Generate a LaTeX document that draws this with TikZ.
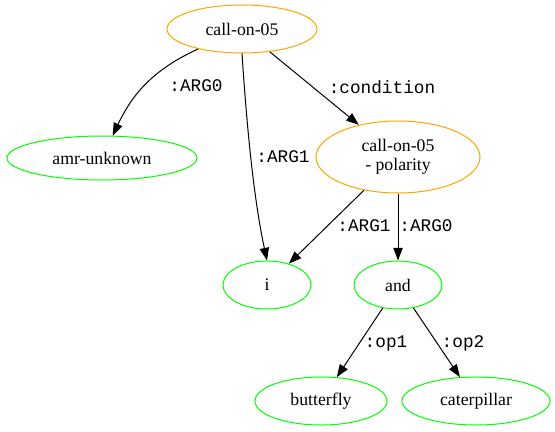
\documentclass[tikz,border=0pt]{standalone}
\usepackage{fontspec}
\setmainfont{Liberation Serif}
\setmonofont{Liberation Mono}
\usepackage{tikz}
\usetikzlibrary{shapes.geometric,arrows.meta}
\definecolor{gvOrange}{HTML}{FFA500}
\definecolor{gvGreen}{HTML}{00FF00}
\tikzstyle{tsText} = [
    text=black,
    font=\fontsize{13.3}{14}\selectfont
]
\tikzstyle{tsEllipse} = [
    ellipse,
    tsText,
    align=center,
    inner sep=0pt,
    line width=0.75pt,
    minimum height=36pt
]
\tikzstyle{tsConcept} = [
    tsEllipse,
    draw=gvOrange
]
\tikzstyle{tsLeaf} = [
    tsEllipse,
    draw=gvGreen
]
\tikzstyle{tsEdge} = [
    -{Triangle[length=9.5pt,width=7pt]},
    line width=0.75pt
]
\tikzstyle{tsRole} = [
    font=\ttfamily\fontsize{13.3}{14}\selectfont
]

\begin{document}
\begin{tikzpicture}[x=0.75pt, y=-0.75pt]
        \useasboundingbox (0,0) rectangle (555,431);

        % Define nodes
        \node[tsConcept, minimum width=112.5pt] (call) at (242,29) {call-on-05};
        \node[tsLeaf, minimum width=142.5pt, minimum height=33pt] (unknown) at (102,158) {amr-unknown};
        \node[tsConcept, minimum width=123pt, minimum height=54pt] (polarity) at (398,157) {call-on-05\\- polarity};
        \node[tsLeaf, minimum width=66pt] (i) at (267,285) {i};
        \node[tsLeaf, minimum width=66pt] (and) at (398,285) {and};
        \node[tsLeaf, minimum width=99pt] (butterfly) at (321,401) {butterfly};
        \node[tsLeaf, minimum width=111pt] (caterpillar) at (476,401) {caterpillar};

        % Edges
        \draw[tsEdge] (call) .. controls (152,70) and (132,95) .. (unknown);
        \draw[tsEdge] (call.south) .. controls (247,130) and (254,200) .. (i.north);
        \draw[tsEdge] (call) -- (polarity);
        \draw[tsEdge] (polarity) -- (i);
        \draw[tsEdge] (polarity.south) -- (and.north);
        \draw[tsEdge] (and) -- (butterfly);
        \draw[tsEdge] (and) -- (caterpillar);

        % Role labels
        \node[tsRole] (lArgZeroTop) at (196,86) {:ARG0};
        \node[tsRole] (lArgOneTop) at (283,157) {:ARG1};
        \node[tsRole] (lCondition) at (382,87) {:condition};
        \node[tsRole] (lArgOneLow) at (364,226) {:ARG1};
        \node[tsRole] (lArgZeroLow) at (426,226) {:ARG0};
        \node[tsRole] (lOpOne) at (386,343) {:op1};
        \node[tsRole] (lOpTwo) at (463,343) {:op2};

    \end{tikzpicture}
\end{document}
